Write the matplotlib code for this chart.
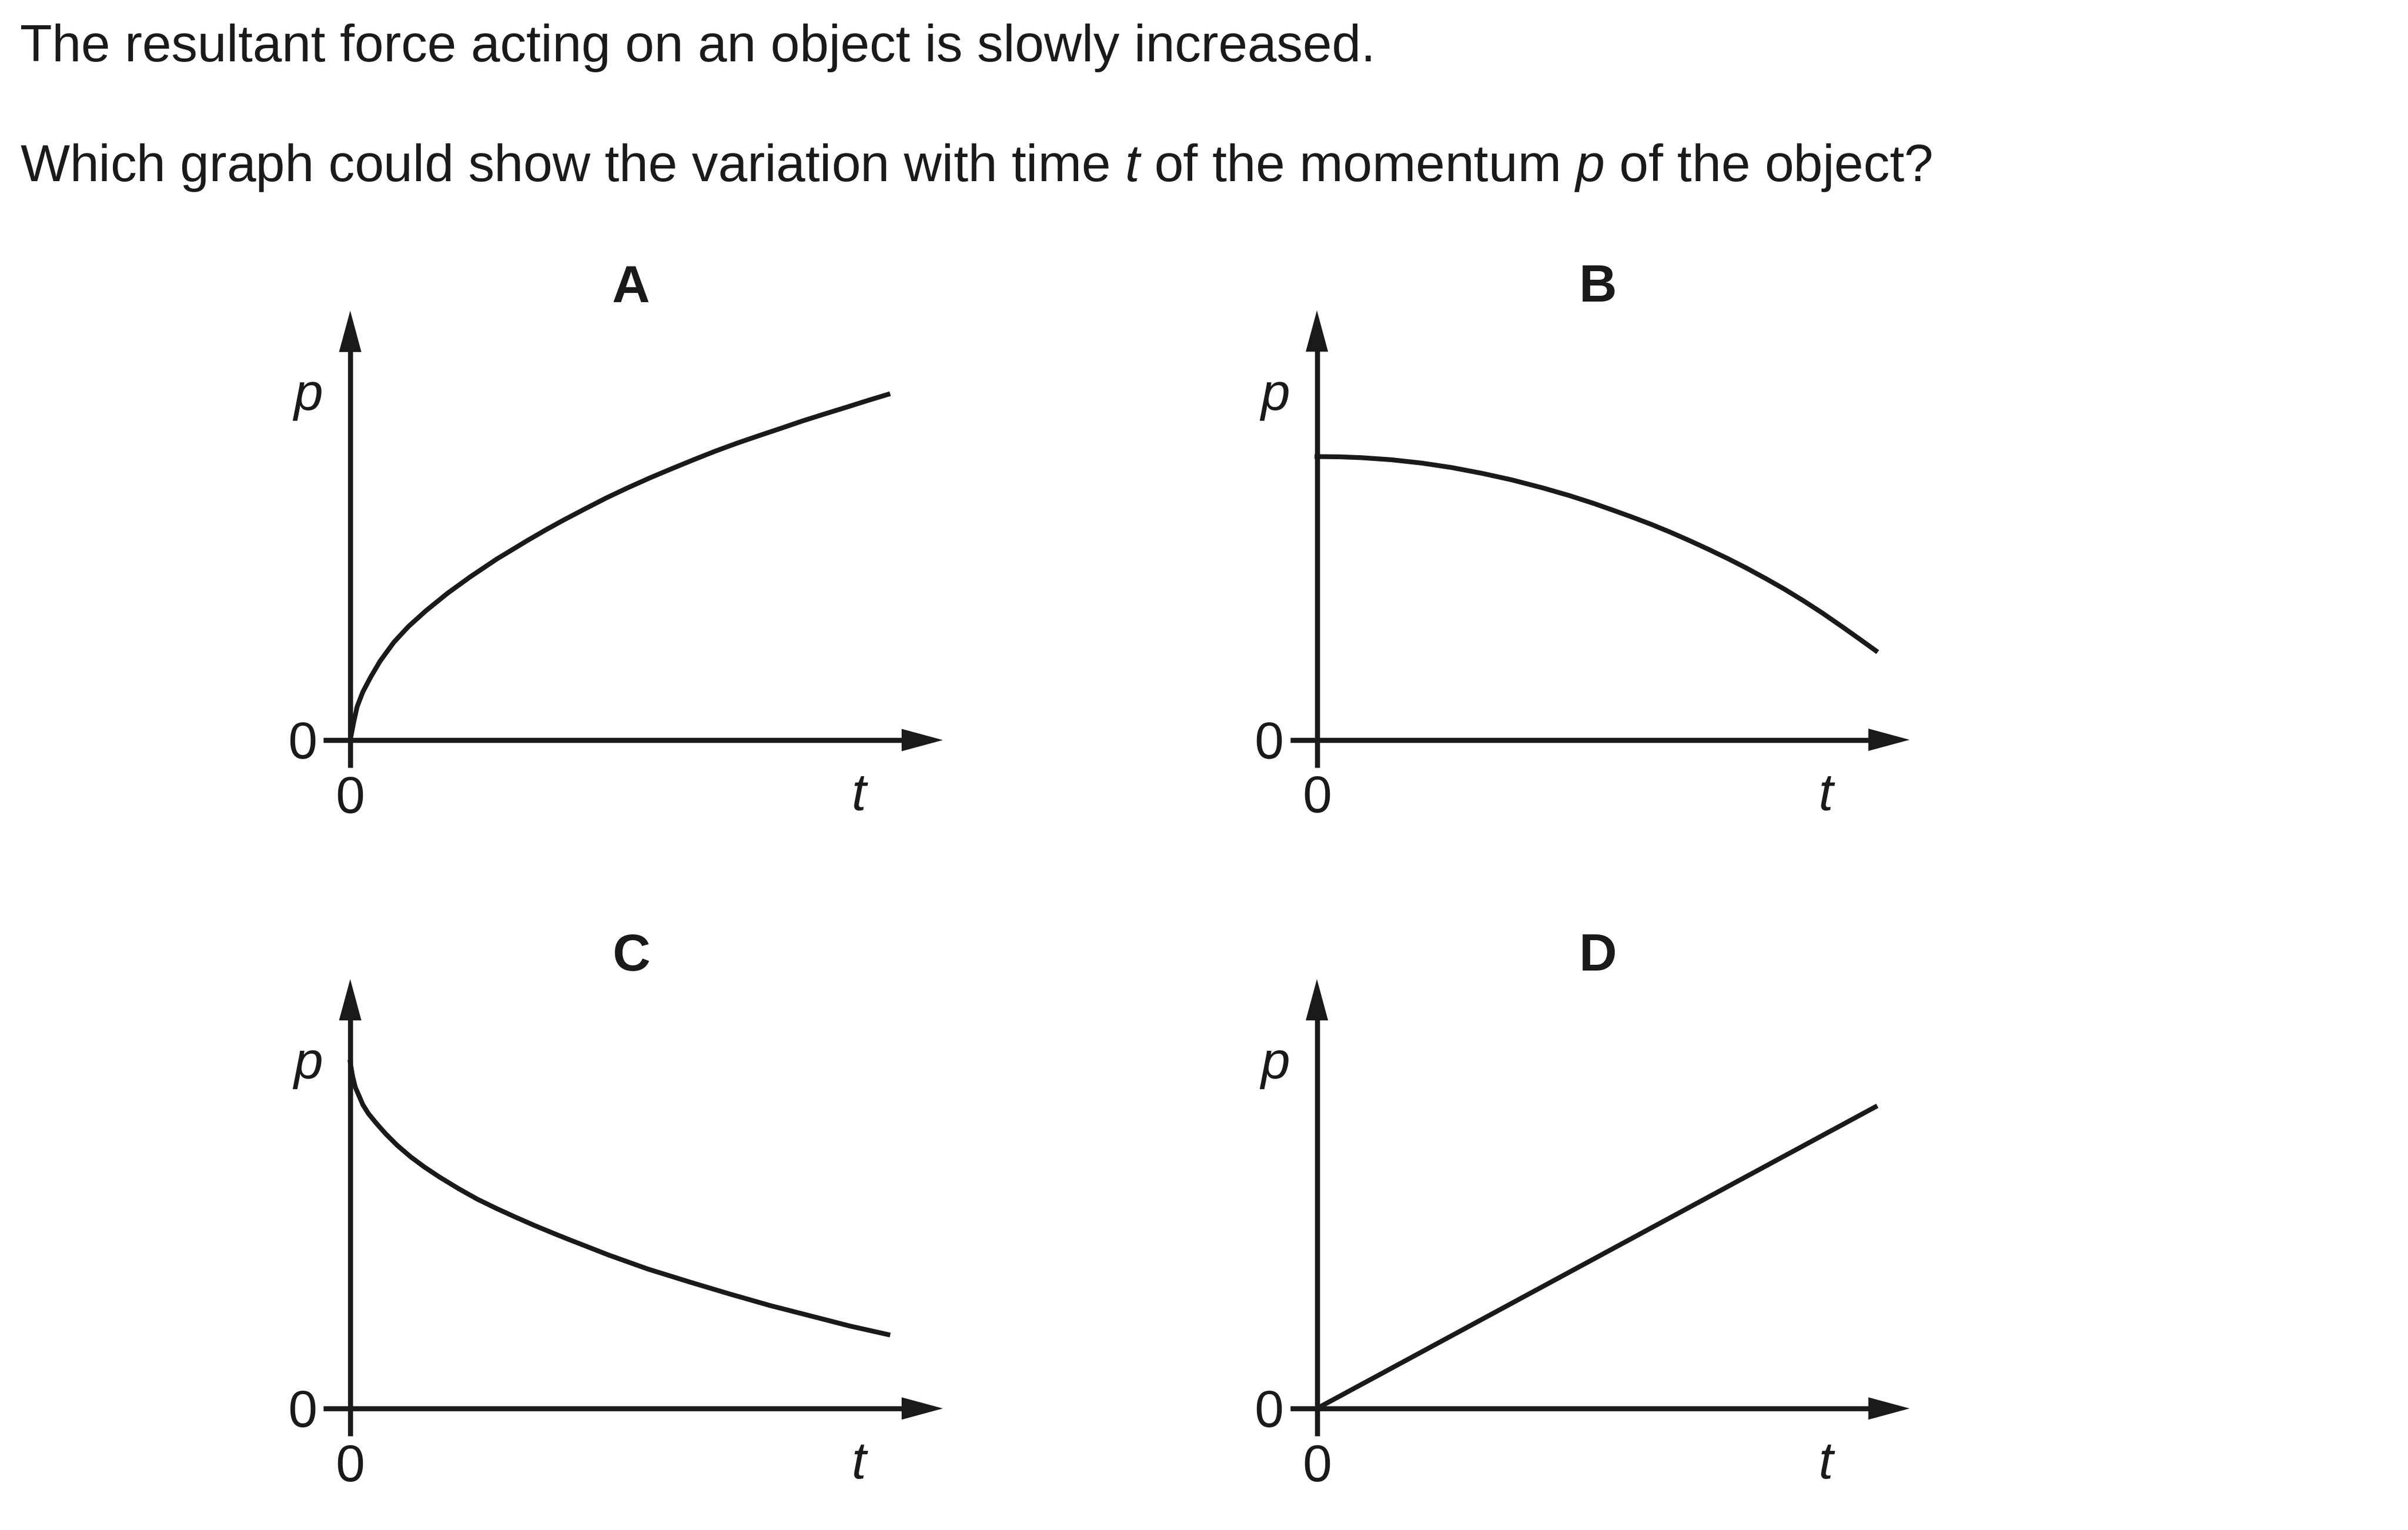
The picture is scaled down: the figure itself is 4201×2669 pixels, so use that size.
import matplotlib.pyplot as plt

plt.rcParams['font.family'] = ['Liberation Sans', 'DejaVu Sans']
plt.rcParams['mathtext.fontset'] = 'custom'
plt.rcParams['mathtext.rm'] = 'Liberation Sans'
plt.rcParams['mathtext.it'] = 'Liberation Sans:italic'
plt.rcParams['mathtext.bf'] = 'Liberation Sans:bold'

# question text
line1 = "The resultant force acting on an object is slowly increased."
line2 = "Which graph could show the variation with time $t$ of the momentum $p$ of the object?"

# curves (t, p in arbitrary units)
a_t = [0, 0.006, 0.012, 0.022, 0.036, 0.052, 0.076, 0.102, 0.132, 0.169, 0.209,
       0.256, 0.309, 0.340, 0.369, 0.407, 0.446, 0.484, 0.522, 0.560, 0.599,
       0.637, 0.675, 0.713, 0.752, 0.790, 0.828, 0.867, 0.905, 0.938]
a_p = [0, 0.031, 0.058, 0.084, 0.1105, 0.1375, 0.1705, 0.1985, 0.2255, 0.2555, 0.2845,
       0.316, 0.348, 0.366, 0.382, 0.402, 0.422, 0.440, 0.457, 0.473, 0.489,
       0.504, 0.518, 0.531, 0.544, 0.557, 0.569, 0.581, 0.593, 0.603]

b_t = [0, 0.040, 0.078, 0.130, 0.183, 0.235, 0.288, 0.340, 0.394, 0.440, 0.483,
       0.516, 0.549, 0.583, 0.616, 0.649, 0.683, 0.716, 0.749, 0.783, 0.816,
       0.849, 0.883, 0.916, 0.949, 0.975]
b_p = [0.494, 0.4936, 0.4921, 0.4885, 0.4827, 0.4749, 0.4648, 0.4534, 0.4394, 0.4261,
       0.4123, 0.4007, 0.3888, 0.3759, 0.3624, 0.3479, 0.3323, 0.3165, 0.2997, 0.2813,
       0.2625, 0.2424, 0.2203, 0.1975, 0.1741, 0.1554]

c_t = [0, 0.004, 0.009, 0.016, 0.022, 0.032, 0.046, 0.062, 0.082, 0.106, 0.129,
       0.156, 0.189, 0.222, 0.256, 0.289, 0.322, 0.356, 0.386, 0.450, 0.520,
       0.591, 0.661, 0.731, 0.801, 0.871, 0.938]
c_p = [0.604, 0.580, 0.560, 0.544, 0.530, 0.514, 0.497, 0.479, 0.459, 0.4385, 0.4215,
       0.4035, 0.3835, 0.365, 0.3485, 0.3335, 0.319, 0.305, 0.293, 0.268, 0.243,
       0.221, 0.200, 0.180, 0.162, 0.144, 0.129]

d_t = [0, 0.974]
d_p = [0, 0.526]

letters = ['A', 'B', 'C', 'D']

W, H = 4201, 2669
fig = plt.figure(figsize=(W / 300, H / 300), dpi=300)
ink = '#1a1a1a'
fs = 21.9

fig.text(35 / W, 1 - 107 / H, line1, fontsize=fs, color=ink, ha='left', va='baseline')
fig.text(35 / W, 1 - 316 / H, line2, fontsize=fs, color=ink, ha='left', va='baseline')


def draw_panel(letter, t, p, ox, oy):
    # axes box: 1 data unit = 1000 px both ways, origin at (ox, oy)
    ax = fig.add_axes([(ox - 120) / W, 1 - (oy + 150) / H, 1200 / W, 970 / H])
    ax.set_xlim(-0.12, 1.08)
    ax.set_ylim(-0.15, 0.82)
    ax.axis('off')

    # axis lines with arrow heads
    ax.plot([-0.047, 0.965], [0, 0], color=ink, lw=2.1, solid_capstyle='butt', clip_on=False)
    ax.plot([0, 0], [-0.048, 0.680], color=ink, lw=2.1, solid_capstyle='butt', clip_on=False)
    ax.fill([0.962, 1.034, 0.962], [0.0195, 0, -0.0195], color=ink, lw=0, clip_on=False)
    ax.fill([-0.0195, 0, 0.0195], [0.677, 0.749, 0.677], color=ink, lw=0, clip_on=False)

    # the graph
    ax.plot(t, p, color=ink, lw=2.0, solid_joinstyle='round', clip_on=False)

    # labels
    ax.text(-0.058, -0.032, '0', fontsize=fs, color=ink, ha='right', va='baseline')
    ax.text(0, -0.127, '0', fontsize=fs, color=ink, ha='center', va='baseline')
    ax.text(-0.073, 0.576, 'p', fontsize=fs, color=ink, ha='center', va='baseline', style='italic')
    ax.text(0.888, -0.122, 't', fontsize=fs, color=ink, ha='center', va='baseline', style='italic')
    ax.text(0.490, 0.764, letter, fontsize=fs, color=ink, ha='center', va='baseline', weight='bold')


draw_panel(letters[0], a_t, a_p, 611, 1291)
draw_panel(letters[1], b_t, b_p, 2297.5, 1290.5)
draw_panel(letters[2], c_t, c_p, 611, 2457)
draw_panel(letters[3], d_t, d_p, 2297.5, 2457)

fig.savefig('out.png', dpi=300, facecolor='white')
